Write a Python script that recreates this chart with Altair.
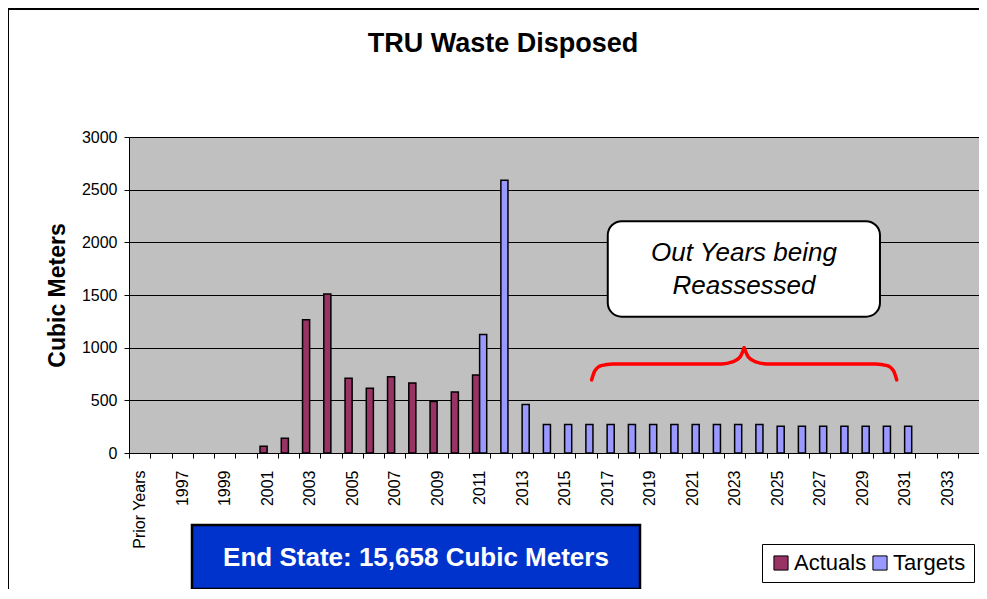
import altair as alt
import pandas as pd

# ---- data ----
categories = ["Prior Years"] + [str(y) for y in range(1996, 2035)]

actual_years = ["2001", "2002", "2003", "2004", "2005", "2006", "2007", "2008", "2009", "2010", "2011"]
actual_values = [65, 140, 1265, 1510, 710, 615, 725, 665, 490, 580, 740]

target_years = ["2011", "2012", "2013", "2014", "2015", "2016", "2017", "2018", "2019", "2020",
                "2021", "2022", "2023", "2024", "2025", "2026", "2027", "2028", "2029", "2030", "2031"]
target_values = [1125, 2590, 460, 270, 270, 270, 270, 270, 270, 270,
                 270, 270, 270, 270, 253, 253, 253, 253, 253, 253, 253]

series_names = ["Actuals", "Targets"]
series_colors = ["#993366", "#9999FF"]
y_ticks = [0, 500, 1000, 1500, 2000, 2500, 3000]

# annotation (in category-index units on x, data units on y)
callout_lines = ["Out Years being", "Reassessed"]
callout_box = {"x": 22.53, "x2": 35.34, "y": 2201, "y2": 1294, "tx": 28.94, "ty": 1898}
brace_left_x = [21.77, 21.92, 22.22, 22.77, 27.9, 28.4, 28.75, 28.95]
brace_left_y = [694, 780, 830, 846, 846, 865, 910, 998]
end_state_text = "End State: 15,658 Cubic Meters"
chart_title = "TRU Waste Disposed"

W, H = 850, 316
FONT = "Liberation Sans"

bars_df = pd.DataFrame({
    "year": actual_years + target_years,
    "value": actual_values + target_values,
    "series": ["Actuals"] * len(actual_years) + ["Targets"] * len(target_years),
})

brace_rows = []
for x, y in zip(brace_left_x, brace_left_y):
    brace_rows.append({"bx": x, "by": y, "side": "L"})
mid = brace_left_x[-1]
for x, y in zip(brace_left_x, brace_left_y):
    brace_rows.append({"bx": 2 * mid - x, "by": y, "side": "R"})
brace_df = pd.DataFrame(brace_rows)

one = pd.DataFrame({"a": [0]})
box_df = pd.DataFrame([callout_box])

xq = alt.Scale(domain=[0, len(categories)], nice=False, zero=False)
yq = alt.Scale(domain=[0, 3000], nice=False)

frame = alt.Chart(one).mark_rect(fill="white", fillOpacity=0, stroke="black", strokeWidth=2).encode(
    x=alt.value(-121), x2=alt.value(1200), y=alt.value(-128), y2=alt.value(1000)
)

title_mark = alt.Chart(one).mark_text(text=chart_title, fontSize=27, font=FONT, fontWeight="bold",
                                      color="black", align="center", baseline="middle").encode(
    x=alt.value(374), y=alt.value(-93)
)

bars = alt.Chart(bars_df).mark_bar(stroke="black", strokeWidth=1.5).encode(
    x=alt.X("year:N", sort=categories,
            scale=alt.Scale(domain=categories, paddingInner=0, paddingOuter=0),
            axis=alt.Axis(title=None, labelAngle=-90, labelFontSize=16, labelFont=FONT,
                          labelColor="black", tickBand="extent", tickSize=5, tickColor="black",
                          domainColor="black", labelPadding=12, labelOverlap=False,
                          labelExpr="datum.value == 'Prior Years' || toNumber(datum.value) % 2 == 1 ? datum.value : ''")),
    xOffset=alt.XOffset("series:N", scale=alt.Scale(domain=series_names, paddingInner=0, paddingOuter=0.5)),
    y=alt.Y("value:Q", scale=yq,
            axis=alt.Axis(values=y_ticks, format="d", title="Cubic Meters", titleFontSize=23, titleFont=FONT,
                          titleFontWeight="bold", titleColor="black", labelFontSize=16, labelFont=FONT,
                          labelColor="black", grid=True, gridColor="black", gridWidth=1,
                          tickSize=5, tickColor="black", domainColor="black", labelPadding=7,
                          titlePadding=12)),
    color=alt.Color("series:N", scale=alt.Scale(domain=series_names, range=series_colors),
                    legend=alt.Legend(title=None, orient="none", legendX=633, legendY=407,
                                      direction="horizontal", symbolType="square", symbolSize=200,
                                      symbolStrokeColor="black", symbolStrokeWidth=1,
                                      labelFontSize=22, labelFont=FONT, labelColor="black",
                                      fillColor="white", strokeColor="black", padding=8,
                                      columnPadding=2, labelOffset=2)),
)

callout = alt.Chart(box_df).mark_rect(fill="white", stroke="black", strokeWidth=2, cornerRadius=14).encode(
    x=alt.X("x:Q", scale=xq, axis=None), x2="x2:Q",
    y=alt.Y("y:Q", scale=yq, axis=None), y2="y2:Q",
)
callout_text = alt.Chart(box_df).mark_text(text=callout_lines, fontSize=26, font=FONT, fontStyle="italic",
                                           lineHeight=33, color="black", align="center", baseline="middle").encode(
    x=alt.X("tx:Q", scale=xq, axis=None),
    y=alt.Y("ty:Q", scale=yq, axis=None),
)
brace = alt.Chart(brace_df).mark_line(color="#FF0000", strokeWidth=3.5, interpolate="monotone",
                                      strokeCap="round").encode(
    x=alt.X("bx:Q", scale=xq, axis=None),
    y=alt.Y("by:Q", scale=yq, axis=None),
    detail="side:N",
)

end_box = alt.Chart(one).mark_rect(fill="#0033CC", stroke="black", strokeWidth=2.5).encode(
    x=alt.value(63), x2=alt.value(511), y=alt.value(388), y2=alt.value(452)
)
end_text = alt.Chart(one).mark_text(text=end_state_text, fontSize=26, font=FONT, fontWeight="bold",
                                    color="white", align="center", baseline="middle").encode(
    x=alt.value(287), y=alt.value(421)
)

chart = alt.layer(frame, title_mark, bars, callout, callout_text, brace, end_box, end_text).resolve_scale(
    x="independent", y="independent"
).properties(
    width=W, height=H,
    autosize=alt.AutoSizeParams(type="none"),
    padding={"left": 121, "top": 129, "right": 0, "bottom": 136},
).configure_view(fill="#C0C0C0", stroke="#808080", strokeWidth=1)

chart.save("out.html", embed_options={"renderer": "svg", "actions": False})
